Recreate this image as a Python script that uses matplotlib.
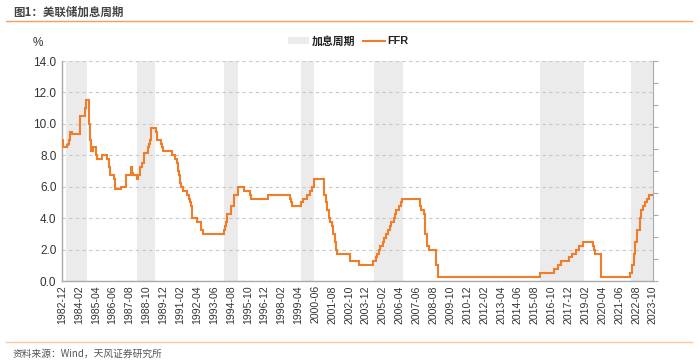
import matplotlib
matplotlib.use("Agg")
import matplotlib.pyplot as plt
from matplotlib.patches import Patch
from matplotlib.lines import Line2D

plt.rcParams['font.family'] = ['Liberation Sans', 'Noto Sans CJK SC', 'DejaVu Sans']

# Fed funds rate change points (month, %)
ffr_months = ["1982-12", "1983-01", "1983-04", "1983-05", "1983-06", "1983-07", "1983-08",
              "1984-03", "1984-07", "1984-08", "1984-10", "1984-11", "1984-12", "1985-02",
              "1985-04", "1985-05", "1985-09", "1986-01", "1986-03", "1986-04", "1986-07",
              "1986-08", "1987-01", "1987-05", "1987-09", "1987-10", "1987-11", "1988-02",
              "1988-03", "1988-05", "1988-06", "1988-08", "1988-11", "1988-12", "1989-01",
              "1989-02", "1989-06", "1989-07", "1989-10", "1989-11", "1989-12", "1990-07",
              "1990-10", "1990-11", "1990-12", "1991-01", "1991-02", "1991-03", "1991-04",
              "1991-08", "1991-09", "1991-10", "1991-11", "1991-12", "1992-04", "1992-07",
              "1992-09", "1994-02", "1994-03", "1994-04", "1994-05", "1994-08", "1994-11",
              "1995-02", "1995-07", "1995-12", "1996-01", "1997-03", "1998-09", "1998-10",
              "1998-11", "1999-06", "1999-08", "1999-11", "2000-02", "2000-03", "2000-05",
              "2001-01", "2001-03", "2001-04", "2001-05", "2001-06", "2001-08", "2001-09",
              "2001-10", "2001-11", "2001-12", "2002-11", "2003-06", "2004-06", "2004-08",
              "2004-09", "2004-11", "2004-12", "2005-02", "2005-03", "2005-05", "2005-06",
              "2005-08", "2005-09", "2005-11", "2005-12", "2006-01", "2006-03", "2006-05",
              "2006-06", "2007-09", "2007-10", "2007-12", "2008-01", "2008-03", "2008-04",
              "2008-10", "2008-12", "2015-12", "2016-12", "2017-03", "2017-06", "2017-12",
              "2018-03", "2018-06", "2018-09", "2018-12", "2019-08", "2019-09", "2019-10",
              "2020-03", "2022-03", "2022-05", "2022-06", "2022-07", "2022-09", "2022-11",
              "2022-12", "2023-02", "2023-03", "2023-05", "2023-07", "2023-10"]
ffr_values = [9.0, 8.5, 8.625, 8.75, 9.0, 9.5, 9.375,
              10.5, 11.0, 11.5, 10.0, 9.0, 8.25, 8.5,
              8.0, 7.75, 8.0, 7.75, 7.25, 6.75, 6.5,
              5.875, 6.0, 6.75, 7.25, 6.875, 6.75, 6.5,
              6.75, 7.25, 7.5, 8.125, 8.5, 8.75, 9.0,
              9.75, 9.5, 9.0, 8.75, 8.5, 8.25, 8.0,
              7.75, 7.5, 7.0, 6.75, 6.25, 6.0, 5.75,
              5.5, 5.25, 5.0, 4.75, 4.0, 3.75, 3.25,
              3.0, 3.25, 3.5, 3.75, 4.25, 4.75, 5.5,
              6.0, 5.75, 5.5, 5.25, 5.5, 5.25, 5.0,
              4.75, 5.0, 5.25, 5.5, 5.75, 6.0, 6.5,
              5.5, 5.0, 4.5, 4.0, 3.75, 3.5, 3.0,
              2.5, 2.0, 1.75, 1.25, 1.0, 1.25, 1.5,
              1.75, 2.0, 2.25, 2.5, 2.75, 3.0, 3.25,
              3.5, 3.75, 4.0, 4.25, 4.5, 4.75, 5.0,
              5.25, 4.75, 4.5, 4.25, 3.0, 2.25, 2.0,
              1.0, 0.25, 0.5, 0.75, 1.0, 1.25, 1.5,
              1.75, 2.0, 2.25, 2.5, 2.25, 2.0, 1.75,
              0.25, 0.5, 1.0, 1.75, 2.5, 3.25, 4.0,
              4.5, 4.75, 5.0, 5.25, 5.5, 5.5]

# Hiking cycles (start month, end month)
hike_starts = ["1983-03", "1988-02", "1994-02", "1999-06", "2004-07", "2015-12", "2022-04"]
hike_ends = ["1984-09", "1989-05", "1995-02", "2000-05", "2006-07", "2019-01", "2023-10"]

tick_labels = ["1982-12", "1984-02", "1985-04", "1986-06", "1987-08", "1988-10", "1989-12",
               "1991-02", "1992-04", "1993-06", "1994-08", "1995-10", "1996-12", "1998-02",
               "1999-04", "2000-06", "2001-08", "2002-10", "2003-12", "2005-02", "2006-04",
               "2007-06", "2008-08", "2009-10", "2010-12", "2012-02", "2013-04", "2014-06",
               "2015-08", "2016-10", "2017-12", "2019-02", "2020-04", "2021-06", "2022-08",
               "2023-10"]

title = "图1：美联储加息周期"
source = "资料来源：Wind，天风证券研究所"


def midx(s):
    y, m = s.split("-")
    return (int(y) - 1982) * 12 + int(m) - 12


fig = plt.figure(figsize=(7.0, 3.64), dpi=100)
ax = fig.add_axes([62 / 700, 1 - 281 / 364, (653 - 62) / 700, (281 - 61) / 364])

for s, e in zip(hike_starts, hike_ends):
    ax.axvspan(midx(s), midx(e), color="#EBEBEB", lw=0, zorder=0)

ax.plot([midx(m) for m in ffr_months], ffr_values, drawstyle="steps-post",
        color="#F07D2A", lw=1.5, zorder=3, solid_joinstyle="miter")

ax.set_xlim(0, midx("2023-10"))
ax.set_ylim(0, 14)
ax.set_yticks(range(0, 15, 2))
ax.set_yticklabels([f"{v:.1f}" for v in range(0, 15, 2)], fontsize=8.5, color="#333333")
ax.set_xticks([midx(t) for t in tick_labels])
ax.set_xticklabels(tick_labels, rotation=90, fontsize=7.6, color="#333333")
ax.tick_params(axis="both", length=0, pad=4)
ax.tick_params(axis="x", pad=3)
ax.grid(axis="y", color="#C8C8C8", ls=(0, (3, 3)), lw=0.8)
ax.set_axisbelow(True)
for sp in ["top", "right"]:
    ax.spines[sp].set_visible(False)
for sp in ["left", "bottom"]:
    ax.spines[sp].set_color("#AAAAAA")
    ax.spines[sp].set_linewidth(1.0)

ax2 = ax.twinx()
ax2.set_ylim(0, 10)
ax2.set_yticks(range(0, 11))
ax2.set_yticklabels([])
ax2.tick_params(axis="y", length=3.5, color="#AAAAAA", direction="out")
for sp in ["top", "left", "bottom"]:
    ax2.spines[sp].set_visible(False)
ax2.spines["right"].set_color("#AAAAAA")

fig.text(38 / 700, 1 - 43 / 364, "%", fontsize=8.5, color="#333333", ha="center", va="center")

handles = [Patch(facecolor="#EBEBEB", edgecolor="none"),
           Line2D([0], [0], color="#F07D2A", lw=1.5)]
leg = fig.legend(handles, ["加息周期", "FFR"], loc="center", bbox_to_anchor=(348 / 700, 1 - 41 / 364),
                 ncol=2, frameon=False, fontsize=7.8, handlelength=2.0, handleheight=0.5,
                 columnspacing=0.7, handletextpad=0.25)
for t in leg.get_texts():
    t.set_fontweight("bold")
    t.set_color("#222222")

fig.text(13 / 700, 1 - 12 / 364, title, fontsize=8.3, color="#444444", fontweight="bold",
         ha="left", va="center", family=["Noto Sans CJK SC", "DejaVu Sans"])
fig.add_artist(Line2D([6 / 700, 692 / 700], [1 - 21 / 364] * 2, color="#F5A05A", lw=1.0,
                      transform=fig.transFigure))
fig.add_artist(Line2D([6 / 700, 692 / 700], [1 - 342 / 364] * 2, color="#F9C8A0", lw=1.0,
                      transform=fig.transFigure))
fig.text(13 / 700, 1 - 354 / 364, source, fontsize=7, color="#555555", ha="left", va="center",
         family=["Noto Sans CJK SC", "DejaVu Sans"])

fig.savefig("out.png", dpi=100)
